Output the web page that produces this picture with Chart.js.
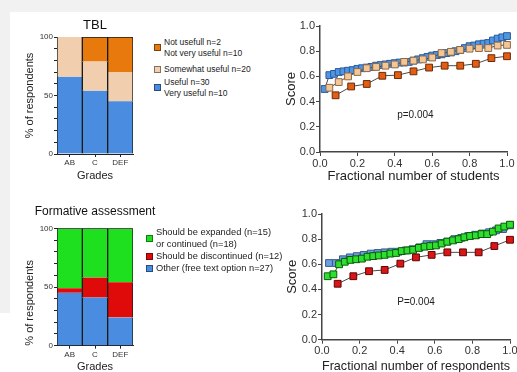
<!DOCTYPE html>
<html>
<head>
<meta charset="utf-8">
<script src="https://cdn.jsdelivr.net/npm/chart.js@4.4.1/dist/chart.umd.min.js"></script>
<style>
  html, body { margin: 0; padding: 0; }
  body { width: 517px; height: 372px; overflow: hidden; position: relative; background: #fff;
         font-family: "Liberation Sans", Arial, sans-serif; }
  .strip-top { position: absolute; left: 0; top: 0; width: 517px; height: 12px; background: #f1f1f1; }
  .strip-left { position: absolute; left: 0; top: 0; width: 10px; height: 313px; background: #f1f1f1; }
  canvas { position: absolute; }
  .legend { position: absolute; color: #222; }
  .legend .item { position: absolute; left: 0; display: flex; align-items: center; white-space: nowrap; }
  .legend .sw { width: 7px; height: 7px; margin-right: 3px; box-sizing: border-box; flex: none;
                border: 1px solid rgba(0,0,0,0.45); }
</style>
</head>
<body>
<div class="strip-top"></div>
<div class="strip-left"></div>

<canvas id="tblBars" width="140" height="175" style="left:10px;top:12px"></canvas>
<canvas id="faBars" width="160" height="185" style="left:10px;top:195px"></canvas>
<canvas id="tblScores" width="247" height="175" style="left:270px;top:12px"></canvas>
<canvas id="faScores" width="260" height="185" style="left:270px;top:195px"></canvas>

<div class="legend" id="tblLegend" style="left:154px;top:0;font-size:8.5px;line-height:11px"></div>
<div class="legend" id="faLegend" style="left:146px;top:0;font-size:9.3px;line-height:12px"></div>

<script>
// ---- Data ----
const gradeLabels = ['AB', 'C', 'DEF'];

// TBL usefulness rating, % of respondents in each grade group
const tblUseful = [66, 54, 45];
const tblSomewhat = [34, 25, 25];
const tblNotUseful = [0, 21, 30];
const tblLegendNames = [
  ['Not usefull n=2', 'Not very useful n=10'],
  ['Somewhat useful n=20'],
  ['Useful n=30', 'Very useful n=10']
];

// Formative assessment opinion, % of respondents in each grade group
const faOther = [45, 41, 24];
const faDiscontinue = [4, 17, 30];
const faExpand = [51, 42, 46];
const faLegendNames = [
  ['Should be expanded (n=15)', 'or continued (n=18)'],
  ['Should be discontinued (n=12)'],
  ['Other (free text option n=27)']
];

// Sorted scores per answer group (plotted against rank / group size)
const scoreUseful = [0.50, 0.61, 0.62, 0.635, 0.64, 0.645, 0.65, 0.66, 0.665, 0.67,
  0.675, 0.685, 0.69, 0.695, 0.70, 0.705, 0.71, 0.71, 0.715, 0.725,
  0.735, 0.745, 0.755, 0.765, 0.77, 0.775, 0.785, 0.79, 0.80, 0.81,
  0.825, 0.84, 0.845, 0.855, 0.86, 0.865, 0.885, 0.90, 0.91, 0.92];
const scoreSomewhat = [0.51, 0.555, 0.60, 0.635, 0.665, 0.675, 0.685, 0.695, 0.715, 0.725,
  0.735, 0.75, 0.785, 0.795, 0.81, 0.82, 0.825, 0.825, 0.845, 0.85];
const scoreNotUseful = [0.45, 0.52, 0.54, 0.605, 0.61, 0.64, 0.67, 0.685, 0.685, 0.70, 0.745, 0.76];

const scoreExpand = [0.505, 0.52, 0.60, 0.62, 0.635, 0.64, 0.645, 0.66, 0.665, 0.67,
  0.675, 0.685, 0.69, 0.705, 0.71, 0.715, 0.73, 0.74, 0.745, 0.75,
  0.765, 0.78, 0.79, 0.80, 0.815, 0.825, 0.83, 0.84, 0.84, 0.86,
  0.885, 0.90, 0.915];
const scoreOther = [0.61, 0.61, 0.64, 0.655, 0.665, 0.675, 0.685, 0.69, 0.695, 0.70,
  0.70, 0.71, 0.72, 0.735, 0.76, 0.76, 0.77, 0.78, 0.80, 0.81,
  0.825, 0.835, 0.845, 0.855, 0.87, 0.88, 0.91];
const scoreDiscontinue = [0.445, 0.505, 0.545, 0.555, 0.605, 0.655, 0.675, 0.695, 0.695, 0.695, 0.745, 0.795];

const pTextTbl = 'p=0.004';
const pTextFa = 'P=0.004';

// ---- Styling ----
const FONT = '"Liberation Sans", Arial, sans-serif';
Chart.defaults.font.family = FONT;
Chart.defaults.color = '#333';

const colors = {
  blueBar: '#4a8de0', beigeBar: '#f1cfae', orangeBar: '#e8790c',
  greenBar: '#1fe01f', redBar: '#df0b0b'
};

const rankPoints = ys => ys.map((y, i) => ({ x: (i + 1) / ys.length, y }));

function buildLegend(id, names, swatches, tops) {
  const box = document.getElementById(id);
  names.forEach((lines, i) => {
    const item = document.createElement('div');
    item.className = 'item';
    item.style.top = tops[i] + 'px';
    const sw = document.createElement('div');
    sw.className = 'sw';
    sw.style.background = swatches[i];
    const txt = document.createElement('div');
    lines.forEach((l, j) => {
      if (j) txt.appendChild(document.createElement('br'));
      txt.appendChild(document.createTextNode(l));
    });
    item.appendChild(sw);
    item.appendChild(txt);
    box.appendChild(item);
  });
}

buildLegend('tblLegend', tblLegendNames, [colors.orangeBar, colors.beigeBar, colors.blueBar], [36.5, 64, 76.5]);
buildLegend('faLegend', faLegendNames, [colors.greenBar, colors.redBar, colors.blueBar], [226.3, 250.3, 262.3]);

// Panel heading centred over the plot area
const panelTitle = {
  id: 'panelTitle',
  afterDraw(chart, args, opts) {
    const { ctx, chartArea } = chart;
    ctx.save();
    ctx.font = opts.size + 'px ' + FONT;
    ctx.fillStyle = '#111';
    ctx.textAlign = 'center';
    ctx.textBaseline = 'middle';
    ctx.fillText(opts.text, (chartArea.left + chartArea.right) / 2, opts.y);
    ctx.restore();
  }
};

// Stacked percentage bars
function stackedBars(id, title, stacks, geom) {
  const n = stacks.length;
  return new Chart(document.getElementById(id), {
    type: 'bar',
    data: {
      labels: gradeLabels,
      datasets: stacks.map((s, i) => ({
        label: s.label,
        data: s.data,
        backgroundColor: s.color,
        borderColor: '#1a1a1a',
        borderWidth: { left: 1, right: 1, top: i === n - 1 ? 1 : 0, bottom: 0 },
        borderSkipped: false,
        barPercentage: 1,
        categoryPercentage: 1
      }))
    },
    options: {
      responsive: false,
      animation: false,
      events: [],
      layout: { padding: { left: 0, right: geom.padRight, top: geom.padTop, bottom: 0 } },
      plugins: {
        legend: { display: false },
        tooltip: { enabled: false },
        title: { display: false },
        panelTitle: { text: title, size: geom.titleSize, y: geom.titleY }
      },
      scales: {
        x: {
          stacked: true,
          grid: { drawOnChartArea: false, drawTicks: true, tickLength: 3, color: '#222', offset: false },
          border: { display: true, color: '#222', width: 1 },
          ticks: { font: { size: 8 }, color: '#333', padding: 1 },
          title: { display: true, text: 'Grades', color: '#222', font: { size: 11 },
                   padding: { top: 0, bottom: geom.xTitleBottom } },
          afterFit: s => { s.height = geom.xHeight; }
        },
        y: {
          stacked: true, min: 0, max: 100,
          grid: { drawOnChartArea: false, drawTicks: true, tickLength: 3, color: '#222' },
          border: { display: true, color: '#222', width: 1 },
          ticks: { stepSize: 10, font: { size: 8 }, color: '#333', padding: 1, autoSkip: false,
                   callback: v => (v % 50 === 0 ? v : '') },
          title: { display: true, text: '% of respondents', color: '#222', font: { size: 11 },
                   align: geom.yTitleAlign, padding: { top: 13.4, bottom: 0 } },
          afterFit: s => { s.width = 47; }
        }
      }
    },
    plugins: [panelTitle]
  });
}

stackedBars('tblBars', 'TBL', [
  { label: 'Useful / Very useful', data: tblUseful, color: colors.blueBar },
  { label: 'Somewhat useful', data: tblSomewhat, color: colors.beigeBar },
  { label: 'Not useful / Not very useful', data: tblNotUseful, color: colors.orangeBar }
], { padRight: 17, padTop: 25, titleSize: 13, titleY: 13.7, xHeight: 33, xTitleBottom: 4.4, yTitleAlign: 'center' });

stackedBars('faBars', 'Formative assessment', [
  { label: 'Other', data: faOther, color: colors.blueBar },
  { label: 'Should be discontinued', data: faDiscontinue, color: colors.redBar },
  { label: 'Should be expanded or continued', data: faExpand, color: colors.greenBar }
], { padRight: 37, padTop: 33.3, titleSize: 12, titleY: 16.7, xHeight: 34.3, xTitleBottom: 6.4, yTitleAlign: 'start' });

// Text note placed in data coordinates
const noteLabel = {
  id: 'noteLabel',
  afterDatasetsDraw(chart, args, opts) {
    const { ctx, scales } = chart;
    ctx.save();
    ctx.font = '10px ' + FONT;
    ctx.fillStyle = '#222';
    ctx.textAlign = 'center';
    ctx.textBaseline = 'middle';
    ctx.fillText(opts.text, scales.x.getPixelForValue(opts.x), scales.y.getPixelForValue(opts.y));
    ctx.restore();
  }
};

function scoreChart(id, xTitle, series, note, geom) {
  const axisCommon = {
    min: 0, max: 1,
    grid: { drawOnChartArea: false, drawTicks: true, tickLength: 4, color: '#444' },
    border: { display: true, color: '#444', width: 1.5 },
    ticks: { stepSize: 0.2, font: { size: 11 }, color: '#333', padding: 1, autoSkip: false,
             callback: v => Number(v).toFixed(1) }
  };
  return new Chart(document.getElementById(id), {
    type: 'scatter',
    data: {
      datasets: series.map(s => ({
        label: s.label,
        data: rankPoints(s.data),
        showLine: true,
        borderColor: '#4a4a4a',
        borderWidth: 1,
        pointStyle: 'rect',
        pointRadius: 4.8,
        pointBackgroundColor: s.fill,
        pointBorderColor: s.edge,
        pointBorderWidth: 1,
        clip: false,
        order: s.order
      }))
    },
    options: {
      responsive: false,
      animation: false,
      events: [],
      layout: { padding: { left: 0, right: geom.padRight, top: geom.padTop, bottom: 0 } },
      plugins: {
        legend: { display: false },
        tooltip: { enabled: false },
        noteLabel: note
      },
      scales: {
        x: Object.assign({}, axisCommon, {
          type: 'linear', position: 'bottom',
          title: { display: true, text: xTitle, color: '#222', font: { size: 13 },
                   padding: { top: 0, bottom: geom.xTitleBottom } },
          afterFit: s => { s.height = geom.xHeight; }
        }),
        y: Object.assign({}, axisCommon, {
          type: 'linear', position: 'left',
          title: { display: true, text: 'Score', color: '#222', font: { size: 13 },
                   padding: { top: geom.yTitleTop, bottom: 0 } },
          afterFit: s => { s.width = geom.yWidth; }
        })
      }
    },
    plugins: [noteLabel]
  });
}

scoreChart('tblScores', 'Fractional number of students', [
  { label: 'Useful / Very useful', data: scoreUseful, fill: '#5096e4', edge: '#2a5a9a', order: 3 },
  { label: 'Somewhat useful', data: scoreSomewhat, fill: '#f4c595', edge: '#8a6a4a', order: 2 },
  { label: 'Not useful / Not very useful', data: scoreNotUseful, fill: '#e35d12', edge: '#6a2a08', order: 1 }
], { text: pTextTbl, x: 0.51, y: 0.29 },
{ padRight: 10, padTop: 14, xHeight: 35, xTitleBottom: 3.2, yWidth: 50, yTitleTop: 13.9 });

scoreChart('faScores', 'Fractional number of respondents', [
  { label: 'Other', data: scoreOther, fill: '#6a9ee0', edge: '#3a5a8a', order: 3 },
  { label: 'Should be expanded or continued', data: scoreExpand, fill: '#2ee02e', edge: '#0b5a0b', order: 2 },
  { label: 'Should be discontinued', data: scoreDiscontinue, fill: '#dc1616', edge: '#5a0606', order: 1 }
], { text: pTextFa, x: 0.50, y: 0.30 },
{ padRight: 20, padTop: 19, xHeight: 40.3, xTitleBottom: 5.7, yWidth: 52, yTitleTop: 14.2 });
</script>
</body>
</html>
